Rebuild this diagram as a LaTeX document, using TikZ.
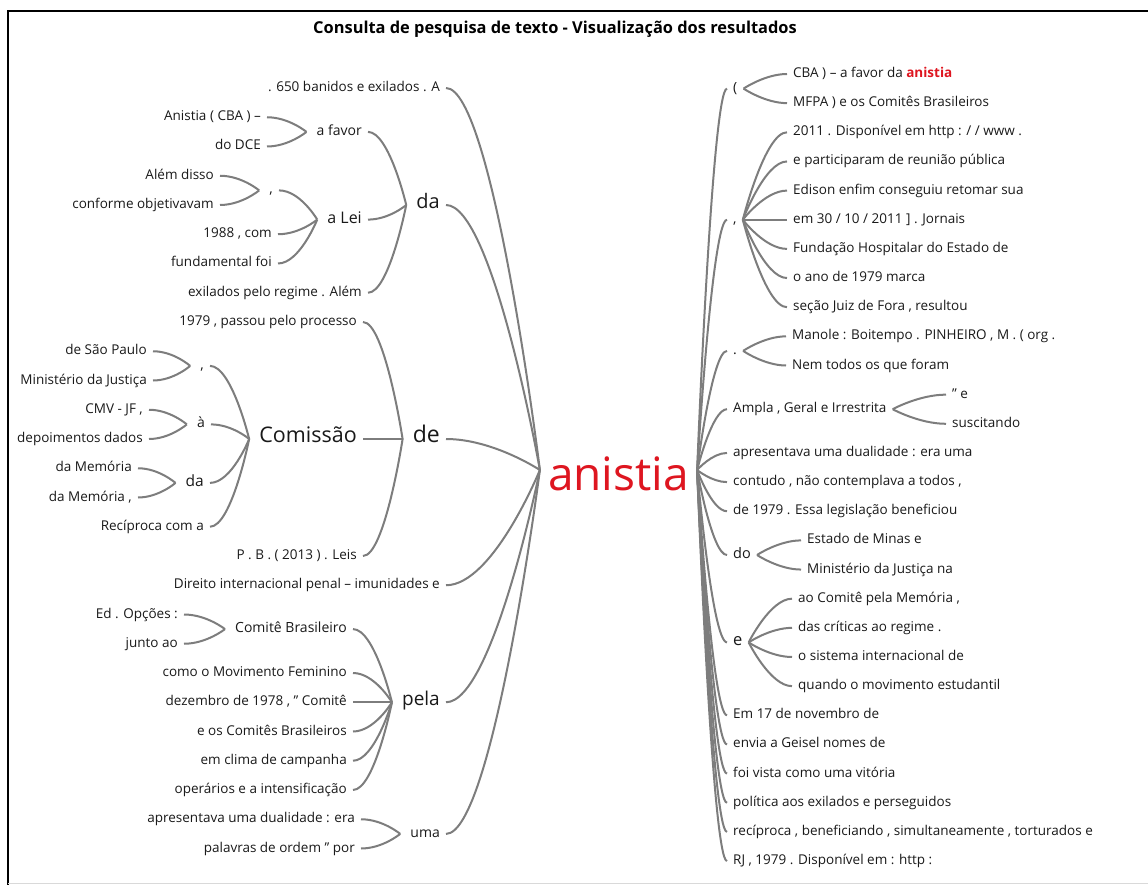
\documentclass[tikz,border=0pt]{standalone}
\usepackage{fontspec}
\setmainfont{Open Sans}
\usetikzlibrary{calc}
\definecolor{edgegray}{RGB}{125,125,125}
\definecolor{ink}{RGB}{25,25,25}
\definecolor{hitred}{RGB}{222,22,32}
\tikzset{
	word/.style={text=ink, inner xsep=6pt, inner ysep=0pt, font=\fontsize{13.5}{16}\selectfont, text height=9.7pt, text depth=2.7pt},
	wl/.style={word, anchor=east},
	wr/.style={word, anchor=west},
	fs/.style={font=\fontsize{#1}{#1}\selectfont},
	link/.style={draw=edgegray, line width=2pt},
	lbr/.style={to path={.. controls ($(\tikztostart)!.5!(\tikztotarget |- \tikztostart)$) and ([xshift=-#1]\tikztotarget) .. ([xshift=-#1]\tikztotarget) \tikztonodes}},
	lbr/.default=4pt,
	rbr/.style={to path={.. controls (\tikztostart) and ($(\tikztotarget)!.5!(\tikztostart |- \tikztotarget)$) .. (\tikztotarget) \tikztonodes}}
}
\begin{document}
\begin{tikzpicture}[x=1pt,y=-1pt]
	\useasboundingbox (0,0) rectangle (1148,885);
	\draw[line width=2.4pt] (8,885) -- (8,11) -- (1148,11);
	\draw[gray!30, line width=1pt] (8,883) -- (1148,883);
	\node[font=\fontsize{16.4}{18}\selectfont\bfseries] (title) at (555,29) {Consulta de pesquisa de texto - Visualização dos resultados};
	
	\node[fs=46, text=hitred, inner xsep=8pt, text height=41pt, text depth=0pt] (ans) at (618.5,470) {anistia};
	
	% left side
	\node[wl] (l0) at (446,88) {. 650 banidos e exilados . A};
	\node[wl,fs=20] (da) at (446,205) {da};
	\node[wl,fs=23] (de) at (446,439) {de};
	\node[wl] (l17) at (446,585.25) {Direito internacional penal – imunidades e};
	\node[wl,fs=19] (pela) at (446,702.25) {pela};
	\node[wl,fs=14] (uma) at (446,833.9) {uma};
	
	\node[wl,fs=14] (fav) at (368,131.9) {a favor};
	\node[wl,fs=16] (lei) at (368,219.6) {a Lei};
	\node[wl] (l7) at (368,292.75) {exilados pelo regime . Além};
	\node[wl] (l1) at (267,117.25) {Anistia ( CBA ) –};
	\node[wl] (l2) at (267,146.5) {do DCE};
	\node[wl,fs=14] (cma) at (279,190.4) {,};
	\node[wl] (l5) at (278,234.25) {1988 , com};
	\node[wl] (l6) at (278,263.5) {fundamental foi};
	\node[wl] (l3) at (220,175.75) {Além disso};
	\node[wl] (l4) at (220,205) {conforme objetivavam};
	
	\node[wl] (l8) at (363,322) {1979 , passou pelo processo};
	\node[wl,fs=21.5] (com) at (363,439) {Comissão};
	\node[wl] (l16) at (363,556) {P . B . ( 2013 ) . Leis};
	\node[wl,fs=14] (cmb) at (210,365.9) {,};
	\node[wl,fs=14] (agr) at (211,424.4) {à};
	\node[wl,fs=15.5] (dab) at (210,482.9) {da};
	\node[wl] (l15) at (210,526.75) {Recíproca com a};
	\node[wl] (l9) at (153,351.25) {de São Paulo};
	\node[wl] (l10) at (153,380.5) {Ministério da Justiça};
	\node[wl] (l11) at (149,409.75) {CMV - JF ,};
	\node[wl] (l12) at (149,439) {depoimentos dados};
	\node[wl] (l13) at (138,468.25) {da Memória};
	\node[wl] (l14) at (138,497.5) {da Memória ,};
	
	\node[wl,fs=14] (cbr) at (353,629.1) {Comitê Brasileiro};
	\node[wl] (l18) at (184,614.5) {Ed . Opções :};
	\node[wl] (l19) at (184,643.75) {junto ao};
	\node[wl] (l20) at (353,673) {como o Movimento Feminino};
	\node[wl] (l21) at (353,702.25) {dezembro de 1978 , ” Comitê};
	\node[wl] (l22) at (353,731.5) {e os Comitês Brasileiros};
	\node[wl] (l23) at (353,760.75) {em clima de campanha};
	\node[wl] (l24) at (353,790) {operários e a intensificação};
	\node[wl] (l25) at (361,819.25) {apresentava uma dualidade : era};
	\node[wl] (l26) at (361,848.5) {palavras de ordem ” por};
	
	% right side
	\node[wr,fs=14] (par) at (727,88.6) {(};
	\node[wr,fs=14] (cmc) at (727,219.75) {,};
	\node[wr,fs=14] (dot) at (727,350.9) {.};
	\node[wr] (amp) at (727,409.2) {Ampla , Geral e Irrestrita};
	\node[wr] (r13) at (727,452.95) {apresentava uma dualidade : era uma};
	\node[wr] (r14) at (727,482.1) {contudo , não contemplava a todos ,};
	\node[wr] (r15) at (727,511.25) {de 1979 . Essa legislação beneficiou};
	\node[wr,fs=14.5] (do) at (727,555) {do};
	\node[wr,fs=16.5] (ee) at (727,642.4) {e};
	\node[wr] (r22) at (727,715.3) {Em 17 de novembro de};
	\node[wr] (r23) at (727,744.45) {envia a Geisel nomes de};
	\node[wr] (r24) at (727,773.6) {foi vista como uma vitória};
	\node[wr] (r25) at (727,802.75) {política aos exilados e perseguidos};
	\node[wr] (r26) at (727,831.9) {recíproca , beneficiando , simultaneamente , torturados e};
	\node[wr] (r27) at (727,861.05) {RJ , 1979 . Disponível em : http :};
	
	\node[wr] (r0) at (787,74) {CBA ) – a favor da \textcolor{hitred}{\textbf{anistia}}};
	\node[wr] (r1) at (787,103.15) {MFPA ) e os Comitês Brasileiros};
	\node[wr] (r2) at (787,132.3) {2011 . Disponível em http : / / www .};
	\node[wr] (r3) at (787,161.45) {e participaram de reunião pública};
	\node[wr] (r4) at (787,190.6) {Edison enfim conseguiu retomar sua};
	\node[wr] (r5) at (787,219.75) {em 30 / 10 / 2011 ] . Jornais};
	\node[wr] (r6) at (787,248.9) {Fundação Hospitalar do Estado de};
	\node[wr] (r7) at (787,278.05) {o ano de 1979 marca};
	\node[wr] (r8) at (787,307.2) {seção Juiz de Fora , resultou};
	\node[wr] (r9) at (786,336.35) {Manole : Boitempo . PINHEIRO , M . ( org .};
	\node[wr] (r10) at (786,365.5) {Nem todos os que foram};
	\node[wr] (r11) at (946,394.65) {” e};
	\node[wr] (r12) at (946,423.8) {suscitando};
	\node[wr] (r16) at (801,540.4) {Estado de Minas e};
	\node[wr] (r17) at (801,569.55) {Ministério da Justiça na};
	\node[wr] (r18) at (792,598.7) {ao Comitê pela Memória ,};
	\node[wr] (r19) at (792,627.85) {das críticas ao regime .};
	\node[wr] (r20) at (792,657) {o sistema internacional de};
	\node[wr] (r21) at (792,686.15) {quando o movimento estudantil};
	
	% connectors
	\foreach \c in {l0,da,de,l17,pela,uma} \draw[link] (\c.east) to[lbr=0pt] (ans.west);
	\foreach \c in {fav,lei,l7} \draw[link] (\c.east) to[lbr] (da.west);
	\foreach \c in {l1,l2} \draw[link] (\c.east) to[lbr] (fav.west);
	\foreach \c in {cma,l5,l6} \draw[link] (\c.east) to[lbr] (lei.west);
	\foreach \c in {l3,l4} \draw[link] (\c.east) to[lbr] (cma.west);
	\foreach \c in {l8,com,l16} \draw[link] (\c.east) to[lbr] (de.west);
	\foreach \c in {cmb,agr,dab,l15} \draw[link] (\c.east) to[lbr] (com.west);
	\foreach \c in {l9,l10} \draw[link] (\c.east) to[lbr] (cmb.west);
	\foreach \c in {l11,l12} \draw[link] (\c.east) to[lbr] (agr.west);
	\foreach \c in {l13,l14} \draw[link] (\c.east) to[lbr] (dab.west);
	\foreach \c in {cbr,l20,l21,l22,l23,l24} \draw[link] (\c.east) to[lbr] (pela.west);
	\foreach \c in {l18,l19} \draw[link] (\c.east) to[lbr] (cbr.west);
	\foreach \c in {l25,l26} \draw[link] (\c.east) to[lbr] (uma.west);
	
	\foreach \c in {par,cmc,dot,amp,r13,r14,r15,do,ee,r22,r23,r24,r25,r26,r27} \draw[link] (ans.east) to[rbr] (\c.west);
	\foreach \k in {0,1} \draw[link] (par.east) to[rbr] (r\k.west);
	\foreach \k in {2,...,8} \draw[link] (cmc.east) to[rbr] (r\k.west);
	\foreach \k in {9,10} \draw[link] (dot.east) to[rbr] (r\k.west);
	\foreach \k in {11,12} \draw[link] (amp.east) to[rbr] (r\k.west);
	\foreach \k in {16,17} \draw[link] (do.east) to[rbr] (r\k.west);
	\foreach \k in {18,...,21} \draw[link] (ee.east) to[rbr] (r\k.west);
\end{tikzpicture}
\end{document}
